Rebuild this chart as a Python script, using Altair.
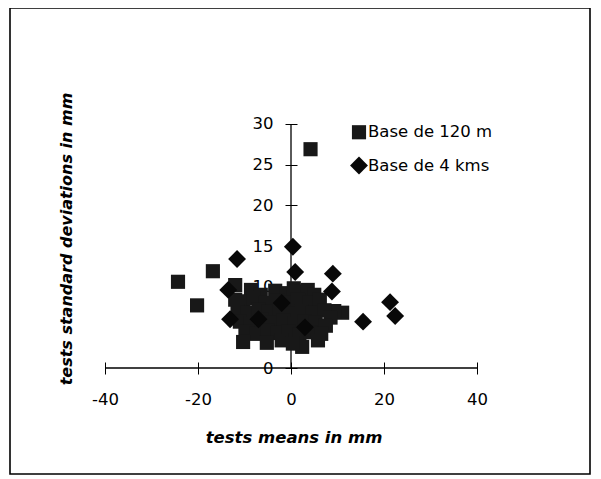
import altair as alt
import pandas as pd

# Series "Base de 120 m" (squares)
sq_x = [4.2, -24.3, -16.8, -20.2, -12.0, -8.6, 11.0, 9.3,
        -6.5, -3.4, -1.0, 0.6, 2.2, 3.6, 5.0,
        -12.0, -10.2, -8.0, -5.5, -3.0, -0.5, 1.5, 4.0, 6.2,
        -11.5, -9.3, -7.0, -4.8, -2.5, -0.2, 2.3, 4.6, 7.2, 8.5,
        -11.0, -8.6, -6.3, -4.0, -1.6, 0.8, 3.0, 5.3, 7.5,
        -9.8, -7.4, -5.0, -2.8, -0.5, 1.8, 4.2, 6.5,
        -10.3, -5.2, -2.0, 2.4, 5.8, 0.4]
sq_y = [26.9, 10.6, 11.9, 7.7, 10.2, 9.6, 6.8, 7.0,
        9.0, 9.5, 9.2, 9.8, 9.4, 9.6, 9.0,
        8.4, 8.2, 8.6, 8.0, 8.3, 8.1, 8.4, 8.0, 8.4,
        7.0, 6.8, 7.2, 6.9, 7.1, 6.7, 7.0, 6.8, 7.1, 6.2,
        5.7, 5.5, 5.9, 5.6, 5.8, 5.5, 5.7, 5.6, 5.2,
        4.5, 4.2, 4.6, 4.3, 4.5, 4.1, 4.4, 4.2,
        3.2, 3.1, 3.4, 2.6, 3.4, 3.0]

# Series "Base de 4 kms" (diamonds)
dm_x = [0.4, 0.9, 9.0, 8.8, 21.3, 22.4, 15.5, -11.6, -13.5, -13.1, -7.0, 3.0, -2.0]
dm_y = [14.9, 11.8, 11.6, 9.4, 8.1, 6.4, 5.7, 13.4, 9.6, 6.0, 6.0, 5.0, 8.0]

series_names = ["Base de 120 m", "Base de 4 kms"]
series_colors = ["#181818", "#080808"]
series_shapes = ["square", "diamond"]
series_sizes = [200, 320]

x_ticks = [-40, -20, 0, 20, 40]
y_ticks = [0, 5, 10, 15, 20, 25, 30]
x_axis_extent = [-40, 40]
y_axis_extent = [0, 30]

x_title = "tests means in mm"
y_title = "tests standard deviations in mm"

FONT = "DejaVu Sans"

pts = pd.DataFrame({
    "x": sq_x + dm_x,
    "y": sq_y + dm_y,
    "series": [series_names[0]] * len(sq_x) + [series_names[1]] * len(dm_x),
})

xs = alt.Scale(domain=[-60.43, 64.30], nice=False, zero=False)
ys = alt.Scale(domain=[-13.03, 44.26], nice=False, zero=False)

x_axis = alt.Axis(
    values=x_ticks, grid=False, domain=False, offset=-112, tickSize=12,
    tickColor="black", tickWidth=1, labelFont=FONT, labelFontSize=16.5,
    labelColor="black", labelPadding=17, labelExpr="'' + datum.value",
    title=x_title, titleFont=FONT, titleFontSize=16.5, titleFontWeight="bold",
    titleFontStyle="italic", titleColor="black", titleX=283.5, titleY=80,
    titleAlign="center", titleBaseline="alphabetic", labelFlush=False,
)
y_axis = alt.Axis(
    values=y_ticks, grid=False, domain=False, offset=-287, tickSize=12,
    tickColor="black", tickWidth=1, labelFont=FONT, labelFontSize=16.5,
    labelColor="black", labelPadding=12, labelExpr="'' + datum.value",
    title=y_title, titleFont=FONT, titleFontSize=16, titleFontWeight="bold",
    titleFontStyle="italic", titleColor="black", titleX=-226, titleY=230.5,
    titleAngle=270, titleAlign="center", titleBaseline="alphabetic", labelFlush=False,
)

points = alt.Chart(pts).mark_point(filled=True, opacity=1, strokeWidth=0).encode(
    x=alt.X("x:Q", scale=xs, axis=x_axis),
    y=alt.Y("y:Q", scale=ys, axis=y_axis),
    color=alt.Color("series:N", scale=alt.Scale(domain=series_names, range=series_colors),
                    legend=alt.Legend(orient="none", legendX=340, legendY=116, title=None,
                                      labelFont=FONT, labelFontSize=16.5, labelColor="black",
                                      symbolSize=210, rowPadding=15.5, labelOffset=0, padding=0,
                                      symbolStrokeWidth=0)),
    shape=alt.Shape("series:N", scale=alt.Scale(domain=series_names, range=series_shapes)),
    size=alt.Size("series:N", scale=alt.Scale(domain=series_names, range=series_sizes), legend=None),
)

hline = alt.Chart(pd.DataFrame({"x1": [x_axis_extent[0]], "x2": [x_axis_extent[1]], "y": [0]})).mark_rule(
    color="black", strokeWidth=1.3
).encode(
    x=alt.X("x1:Q", scale=xs, axis=x_axis), x2="x2:Q", y=alt.Y("y:Q", scale=ys, axis=y_axis)
)
vline = alt.Chart(pd.DataFrame({"x": [0], "y1": [y_axis_extent[0]], "y2": [y_axis_extent[1]]})).mark_rule(
    color="black", strokeWidth=1.3
).encode(
    x=alt.X("x:Q", scale=xs, axis=x_axis), y=alt.Y("y1:Q", scale=ys, axis=y_axis), y2="y2:Q"
)

chart = alt.layer(hline, vline, points).properties(
    width=580, height=466,
    autosize=alt.AutoSizeParams(type="none"),
    padding={"left": 2, "top": 0, "right": 2, "bottom": 2},
    background="white",
).configure(font=FONT).configure_view(stroke="black", strokeWidth=1.6)

chart.save("out.html", embed_options={"renderer": "svg", "actions": False})
